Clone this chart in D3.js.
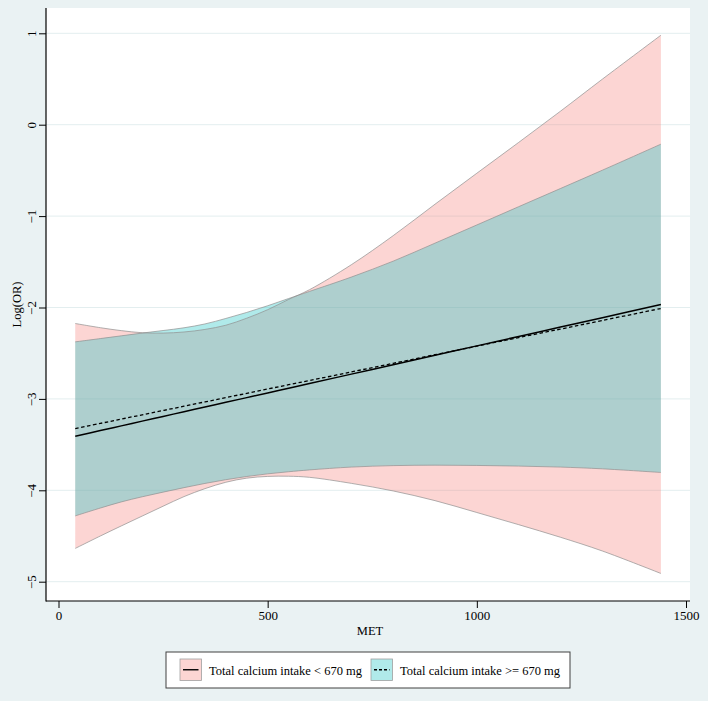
<!DOCTYPE html>
<html>
<head>
<meta charset="utf-8">
<script src="https://cdn.jsdelivr.net/npm/d3@7"></script>
<style>
  html, body { margin: 0; padding: 0; background: #EAF2F3; }
  svg { display: block; }
  text { font-family: "Liberation Serif", "Times New Roman", serif; fill: #000; }
</style>
</head>
<body>
<svg id="chart" width="708" height="701"></svg>
<script>
// ---------- data ----------
const met = [40, 100, 150, 200, 250, 300, 350, 400, 450, 500, 550, 600, 700, 800, 900, 1000, 1100, 1200, 1300, 1440];

// Total calcium intake < 670 mg
const lowFit   = [-3.408, -3.346, -3.295, -3.243, -3.192, -3.140, -3.089, -3.037, -2.986, -2.935, -2.883, -2.832, -2.729, -2.626, -2.523, -2.420, -2.317, -2.214, -2.111, -1.967];
const lowUpper = [-2.175, -2.221, -2.253, -2.276, -2.280, -2.268, -2.240, -2.194, -2.117, -2.024, -1.912, -1.805, -1.532, -1.214, -0.870, -0.531, -0.194, 0.148, 0.498, 0.979];
const lowLower = [-4.636, -4.500, -4.390, -4.282, -4.174, -4.069, -3.982, -3.912, -3.867, -3.848, -3.846, -3.858, -3.924, -4.007, -4.113, -4.243, -4.376, -4.514, -4.664, -4.910];

// Total calcium intake >= 670 mg
const highFit   = [-3.324, -3.268, -3.221, -3.174, -3.127, -3.080, -3.033, -2.986, -2.939, -2.892, -2.845, -2.799, -2.705, -2.611, -2.517, -2.423, -2.329, -2.236, -2.142, -2.011];
const highUpper = [-2.376, -2.340, -2.310, -2.280, -2.252, -2.222, -2.180, -2.120, -2.054, -1.981, -1.902, -1.824, -1.667, -1.493, -1.296, -1.097, -0.897, -0.698, -0.498, -0.213];
const highLower = [-4.280, -4.194, -4.127, -4.071, -4.020, -3.971, -3.925, -3.884, -3.849, -3.820, -3.797, -3.777, -3.746, -3.730, -3.725, -3.728, -3.735, -3.746, -3.765, -3.805];

const xTicks = [0, 500, 1000, 1500];
const yTicks = [-5, -4, -3, -2, -1, 0, 1];
const seriesNames = ["Total calcium intake < 670 mg", "Total calcium intake >= 670 mg"];

// ---------- layout ----------
const svg = d3.select("#chart");
const W = 708, H = 701;
const plot = { left: 46, right: 690, top: 8, bottom: 601 };

svg.append("rect").attr("width", W).attr("height", H).attr("fill", "#EAF2F3");
svg.append("rect")
  .attr("x", plot.left).attr("y", plot.top)
  .attr("width", plot.right - plot.left).attr("height", plot.bottom - plot.top)
  .attr("fill", "#ffffff");

const x = d3.scaleLinear().domain([0, 1500]).range([58.5, 686]);
const y = d3.scaleLinear().domain([-5, 1]).range([581.7, 33.3]);

// gridlines
svg.append("g").selectAll("line").data(yTicks).join("line")
  .attr("x1", plot.left).attr("x2", plot.right)
  .attr("y1", d => y(d)).attr("y2", d => y(d))
  .attr("stroke", "#E3EEEF").attr("stroke-width", 1);

const lowData = met.map((m, i) => ({ m, fit: lowFit[i], lo: lowLower[i], hi: lowUpper[i] }));
const highData = met.map((m, i) => ({ m, fit: highFit[i], lo: highLower[i], hi: highUpper[i] }));

const curve = d3.curveCatmullRom.alpha(0.5);
const area = d3.area().x(d => x(d.m)).y0(d => y(d.lo)).y1(d => y(d.hi)).curve(curve);
const lineHi = d3.line().x(d => x(d.m)).y(d => y(d.hi)).curve(curve);
const lineLo = d3.line().x(d => x(d.m)).y(d => y(d.lo)).curve(curve);
const lineFit = d3.line().x(d => x(d.m)).y(d => y(d.fit)).curve(curve);

const pinkCol = "rgb(245,115,108)", pinkOp = 0.3;
const cyanCol = "rgb(41,198,198)", cyanOp = 0.37;

svg.append("path").datum(lowData).attr("d", area).attr("fill", pinkCol).attr("fill-opacity", pinkOp);
svg.append("path").datum(highData).attr("d", area).attr("fill", cyanCol).attr("fill-opacity", cyanOp);

[lowData, highData].forEach(ds => {
  svg.append("path").datum(ds).attr("d", lineHi).attr("fill", "none").attr("stroke", "#8f8f8f").attr("stroke-width", 0.7);
  svg.append("path").datum(ds).attr("d", lineLo).attr("fill", "none").attr("stroke", "#8f8f8f").attr("stroke-width", 0.7);
});

svg.append("path").datum(lowData).attr("d", lineFit).attr("fill", "none")
  .attr("stroke", "#000").attr("stroke-width", 1.5);
svg.append("path").datum(highData).attr("d", lineFit).attr("fill", "none")
  .attr("stroke", "#000").attr("stroke-width", 1.3).attr("stroke-dasharray", "3.5,2.5");

// ---------- axes ----------
const fmtMinus = d => d < 0 ? "\u2212" + Math.abs(d) : String(d);

const yAxis = svg.append("g").attr("transform", `translate(${plot.left},0)`)
  .call(d3.axisLeft(y).tickValues(yTicks).tickSize(7).tickSizeOuter(0).tickFormat(fmtMinus));
yAxis.select(".domain").remove();
yAxis.selectAll(".tick line").attr("stroke", "#000").attr("stroke-width", 1);
yAxis.selectAll(".tick text")
  .attr("x", 0).attr("dy", null).attr("y", 0)
  .attr("text-anchor", "middle")
  .attr("transform", "translate(-10.5,0) rotate(-90)")
  .style("font-family", "'Liberation Serif', serif").style("font-size", "13px").attr("fill", "#000");

const xAxis = svg.append("g").attr("transform", `translate(0,${plot.bottom})`)
  .call(d3.axisBottom(x).tickValues(xTicks).tickSize(7).tickSizeOuter(0).tickFormat(d3.format("d")));
xAxis.select(".domain").remove();
xAxis.selectAll(".tick line").attr("stroke", "#000").attr("stroke-width", 1);
xAxis.selectAll(".tick text").attr("y", 0).attr("dy", null)
  .attr("transform", "translate(0,19)")
  .style("font-family", "'Liberation Serif', serif").style("font-size", "13px").attr("fill", "#000");

// axis lines
svg.append("line").attr("x1", plot.left).attr("x2", plot.left).attr("y1", plot.top).attr("y2", plot.bottom + 0.5)
  .attr("stroke", "#000").attr("stroke-width", 1.2);
svg.append("line").attr("x1", plot.left).attr("x2", plot.right).attr("y1", plot.bottom).attr("y2", plot.bottom)
  .attr("stroke", "#000").attr("stroke-width", 1.2);

// axis titles
svg.append("text").attr("transform", "translate(21,304.5) rotate(-90)")
  .attr("text-anchor", "middle").style("font-size", "12.5px").text("Log(OR)");
svg.append("text").attr("x", (plot.left + plot.right) / 2 + 2).attr("y", 635)
  .attr("text-anchor", "middle").style("font-size", "12.5px").text("MET");

// ---------- legend ----------
const lg = svg.append("g");
lg.append("rect").attr("x", 166).attr("y", 652).attr("width", 404).attr("height", 36)
  .attr("fill", "#fff").attr("stroke", "#404040").attr("stroke-width", 1);

const items = [
  { x: 180, name: seriesNames[0], fill: "rgb(252,213,211)", dash: null },
  { x: 371, name: seriesNames[1], fill: "rgb(176,234,234)", dash: "3,2" }
];
items.forEach(it => {
  lg.append("rect").attr("x", it.x).attr("y", 659).attr("width", 21.5).attr("height", 21.5)
    .attr("fill", it.fill).attr("stroke", "#a0a0a0").attr("stroke-width", 0.8);
  const l = lg.append("line").attr("x1", it.x + 3).attr("x2", it.x + 18.5)
    .attr("y1", 669.75).attr("y2", 669.75).attr("stroke", "#000").attr("stroke-width", 1.4);
  if (it.dash) l.attr("stroke-dasharray", it.dash);
  lg.append("text").attr("x", it.x + 29).attr("y", 675).style("font-size", "12.5px").text(it.name);
});
</script>
</body>
</html>
